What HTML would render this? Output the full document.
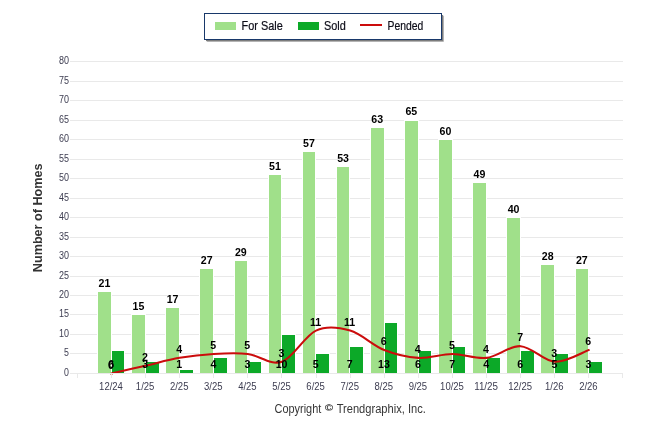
<!DOCTYPE html>
<html><head><meta charset="utf-8"><title>Chart</title>
<style>html,body{margin:0;padding:0;background:#fff}body{width:646px;height:434px;overflow:hidden}svg{display:block}text{font-family:"Liberation Sans",sans-serif}</style></head><body>
<svg width="646" height="434" viewBox="0 0 646 434">
<rect width="646" height="434" fill="#fff"/>
<g shape-rendering="crispEdges">
<rect x="70" y="373" width="553" height="1" fill="#e9e9e9"/>
<rect x="70" y="353" width="553" height="1" fill="#e9e9e9"/>
<rect x="70" y="334" width="553" height="1" fill="#e9e9e9"/>
<rect x="70" y="314" width="553" height="1" fill="#e9e9e9"/>
<rect x="70" y="295" width="553" height="1" fill="#e9e9e9"/>
<rect x="70" y="276" width="553" height="1" fill="#e9e9e9"/>
<rect x="70" y="256" width="553" height="1" fill="#e9e9e9"/>
<rect x="70" y="237" width="553" height="1" fill="#e9e9e9"/>
<rect x="70" y="217" width="553" height="1" fill="#e9e9e9"/>
<rect x="70" y="198" width="553" height="1" fill="#e9e9e9"/>
<rect x="70" y="178" width="553" height="1" fill="#e9e9e9"/>
<rect x="70" y="159" width="553" height="1" fill="#e9e9e9"/>
<rect x="70" y="139" width="553" height="1" fill="#e9e9e9"/>
<rect x="70" y="120" width="553" height="1" fill="#e9e9e9"/>
<rect x="70" y="100" width="553" height="1" fill="#e9e9e9"/>
<rect x="70" y="81" width="553" height="1" fill="#e9e9e9"/>
<rect x="70" y="61" width="553" height="1" fill="#e9e9e9"/>
<rect x="77" y="373" width="1" height="5" fill="#e9e9e9"/>
<rect x="111" y="373" width="1" height="5" fill="#e9e9e9"/>
<rect x="145" y="373" width="1" height="5" fill="#e9e9e9"/>
<rect x="179" y="373" width="1" height="5" fill="#e9e9e9"/>
<rect x="213" y="373" width="1" height="5" fill="#e9e9e9"/>
<rect x="247" y="373" width="1" height="5" fill="#e9e9e9"/>
<rect x="281" y="373" width="1" height="5" fill="#e9e9e9"/>
<rect x="316" y="373" width="1" height="5" fill="#e9e9e9"/>
<rect x="350" y="373" width="1" height="5" fill="#e9e9e9"/>
<rect x="384" y="373" width="1" height="5" fill="#e9e9e9"/>
<rect x="418" y="373" width="1" height="5" fill="#e9e9e9"/>
<rect x="452" y="373" width="1" height="5" fill="#e9e9e9"/>
<rect x="486" y="373" width="1" height="5" fill="#e9e9e9"/>
<rect x="520" y="373" width="1" height="5" fill="#e9e9e9"/>
<rect x="554" y="373" width="1" height="5" fill="#e9e9e9"/>
<rect x="588" y="373" width="1" height="5" fill="#e9e9e9"/>
<rect x="622" y="373" width="1" height="5" fill="#e9e9e9"/>
</g>
<text x="69" y="376.1" font-size="10.9" fill="#3c3c50" text-anchor="end" textLength="4.9" lengthAdjust="spacingAndGlyphs">0</text>
<text x="69" y="356.1" font-size="10.9" fill="#3c3c50" text-anchor="end" textLength="4.9" lengthAdjust="spacingAndGlyphs">5</text>
<text x="69" y="337.1" font-size="10.9" fill="#3c3c50" text-anchor="end" textLength="10.0" lengthAdjust="spacingAndGlyphs">10</text>
<text x="69" y="317.1" font-size="10.9" fill="#3c3c50" text-anchor="end" textLength="10.0" lengthAdjust="spacingAndGlyphs">15</text>
<text x="69" y="298.1" font-size="10.9" fill="#3c3c50" text-anchor="end" textLength="10.0" lengthAdjust="spacingAndGlyphs">20</text>
<text x="69" y="279.1" font-size="10.9" fill="#3c3c50" text-anchor="end" textLength="10.0" lengthAdjust="spacingAndGlyphs">25</text>
<text x="69" y="259.1" font-size="10.9" fill="#3c3c50" text-anchor="end" textLength="10.0" lengthAdjust="spacingAndGlyphs">30</text>
<text x="69" y="240.1" font-size="10.9" fill="#3c3c50" text-anchor="end" textLength="10.0" lengthAdjust="spacingAndGlyphs">35</text>
<text x="69" y="220.1" font-size="10.9" fill="#3c3c50" text-anchor="end" textLength="10.0" lengthAdjust="spacingAndGlyphs">40</text>
<text x="69" y="201.1" font-size="10.9" fill="#3c3c50" text-anchor="end" textLength="10.0" lengthAdjust="spacingAndGlyphs">45</text>
<text x="69" y="181.1" font-size="10.9" fill="#3c3c50" text-anchor="end" textLength="10.0" lengthAdjust="spacingAndGlyphs">50</text>
<text x="69" y="162.1" font-size="10.9" fill="#3c3c50" text-anchor="end" textLength="10.0" lengthAdjust="spacingAndGlyphs">55</text>
<text x="69" y="142.1" font-size="10.9" fill="#3c3c50" text-anchor="end" textLength="10.0" lengthAdjust="spacingAndGlyphs">60</text>
<text x="69" y="123.1" font-size="10.9" fill="#3c3c50" text-anchor="end" textLength="10.0" lengthAdjust="spacingAndGlyphs">65</text>
<text x="69" y="103.1" font-size="10.9" fill="#3c3c50" text-anchor="end" textLength="10.0" lengthAdjust="spacingAndGlyphs">70</text>
<text x="69" y="84.1" font-size="10.9" fill="#3c3c50" text-anchor="end" textLength="10.0" lengthAdjust="spacingAndGlyphs">75</text>
<text x="69" y="64.1" font-size="10.9" fill="#3c3c50" text-anchor="end" textLength="10.0" lengthAdjust="spacingAndGlyphs">80</text>
<g shape-rendering="crispEdges">
<rect x="97" y="291" width="15" height="82" fill="#fff"/>
<rect x="111" y="350" width="14" height="23" fill="#fff"/>
<rect x="131" y="314" width="15" height="59" fill="#fff"/>
<rect x="145" y="361" width="15" height="12" fill="#fff"/>
<rect x="165" y="307" width="15" height="66" fill="#fff"/>
<rect x="179" y="369" width="15" height="4" fill="#fff"/>
<rect x="199" y="268" width="15" height="105" fill="#fff"/>
<rect x="213" y="357" width="15" height="16" fill="#fff"/>
<rect x="234" y="260" width="14" height="113" fill="#fff"/>
<rect x="247" y="361" width="15" height="12" fill="#fff"/>
<rect x="268" y="174" width="14" height="199" fill="#fff"/>
<rect x="281" y="334" width="15" height="39" fill="#fff"/>
<rect x="302" y="151" width="14" height="222" fill="#fff"/>
<rect x="315" y="353" width="15" height="20" fill="#fff"/>
<rect x="336" y="166" width="14" height="207" fill="#fff"/>
<rect x="349" y="346" width="15" height="27" fill="#fff"/>
<rect x="370" y="127" width="15" height="246" fill="#fff"/>
<rect x="384" y="322" width="14" height="51" fill="#fff"/>
<rect x="404" y="120" width="15" height="253" fill="#fff"/>
<rect x="418" y="350" width="14" height="23" fill="#fff"/>
<rect x="438" y="139" width="15" height="234" fill="#fff"/>
<rect x="452" y="346" width="14" height="27" fill="#fff"/>
<rect x="472" y="182" width="15" height="191" fill="#fff"/>
<rect x="486" y="357" width="15" height="16" fill="#fff"/>
<rect x="506" y="217" width="15" height="156" fill="#fff"/>
<rect x="520" y="350" width="15" height="23" fill="#fff"/>
<rect x="540" y="264" width="15" height="109" fill="#fff"/>
<rect x="554" y="353" width="15" height="20" fill="#fff"/>
<rect x="575" y="268" width="14" height="105" fill="#fff"/>
<rect x="588" y="361" width="15" height="12" fill="#fff"/>
<rect x="98" y="292" width="13" height="81" fill="#a0e08a"/>
<rect x="112" y="351" width="12" height="22" fill="#0ca928"/>
<rect x="132" y="315" width="13" height="58" fill="#a0e08a"/>
<rect x="146" y="362" width="13" height="11" fill="#0ca928"/>
<rect x="166" y="308" width="13" height="65" fill="#a0e08a"/>
<rect x="180" y="370" width="13" height="3" fill="#0ca928"/>
<rect x="200" y="269" width="13" height="104" fill="#a0e08a"/>
<rect x="214" y="358" width="13" height="15" fill="#0ca928"/>
<rect x="235" y="261" width="12" height="112" fill="#a0e08a"/>
<rect x="248" y="362" width="13" height="11" fill="#0ca928"/>
<rect x="269" y="175" width="12" height="198" fill="#a0e08a"/>
<rect x="282" y="335" width="13" height="38" fill="#0ca928"/>
<rect x="303" y="152" width="12" height="221" fill="#a0e08a"/>
<rect x="316" y="354" width="13" height="19" fill="#0ca928"/>
<rect x="337" y="167" width="12" height="206" fill="#a0e08a"/>
<rect x="350" y="347" width="13" height="26" fill="#0ca928"/>
<rect x="371" y="128" width="13" height="245" fill="#a0e08a"/>
<rect x="385" y="323" width="12" height="50" fill="#0ca928"/>
<rect x="405" y="121" width="13" height="252" fill="#a0e08a"/>
<rect x="419" y="351" width="12" height="22" fill="#0ca928"/>
<rect x="439" y="140" width="13" height="233" fill="#a0e08a"/>
<rect x="453" y="347" width="12" height="26" fill="#0ca928"/>
<rect x="473" y="183" width="13" height="190" fill="#a0e08a"/>
<rect x="487" y="358" width="13" height="15" fill="#0ca928"/>
<rect x="507" y="218" width="13" height="155" fill="#a0e08a"/>
<rect x="521" y="351" width="13" height="22" fill="#0ca928"/>
<rect x="541" y="265" width="13" height="108" fill="#a0e08a"/>
<rect x="555" y="354" width="13" height="19" fill="#0ca928"/>
<rect x="576" y="269" width="12" height="104" fill="#a0e08a"/>
<rect x="589" y="362" width="13" height="11" fill="#0ca928"/>
</g>
<clipPath id="pc"><rect x="70" y="55" width="560" height="318.1"/></clipPath>
<path clip-path="url(#pc)" d="M111.40,373.45 C117.08,372.15 134.13,368.25 145.50,365.65 C156.87,363.06 168.23,359.81 179.60,357.86 C190.97,355.91 202.33,354.61 213.70,353.96 C225.07,353.31 236.43,352.66 247.80,353.96 C259.17,355.26 270.53,365.65 281.90,361.76 C293.27,357.86 304.63,335.77 316.00,330.57 C327.37,325.37 338.73,327.32 350.10,330.57 C361.47,333.82 372.83,345.51 384.20,350.06 C395.57,354.61 406.93,357.21 418.30,357.86 C429.67,358.51 441.03,353.96 452.40,353.96 C463.77,353.96 475.13,359.16 486.50,357.86 C497.87,356.56 509.23,345.51 520.60,346.16 C531.97,346.81 543.33,361.11 554.70,361.76 C566.07,362.41 583.12,352.01 588.80,350.06" fill="none" stroke="#cb0c0c" stroke-width="2.05" stroke-linecap="round" stroke-linejoin="round"/>
<rect x="110" y="374" width="1" height="1" fill="#ea9a9a"/><rect x="112" y="374" width="1" height="1" fill="#ea9a9a"/>
<text x="104.40" y="286.90" font-size="10.6" font-weight="bold" fill="#000" text-anchor="middle">21</text>
<text x="111.10" y="368" font-size="10.6" font-weight="bold" fill="#000" text-anchor="middle">6</text>
<text x="110.90" y="368.55" font-size="10.6" font-weight="bold" fill="#000" text-anchor="middle">0</text>
<text x="111.00" y="390" font-size="11.3" fill="#3c3c50" text-anchor="middle" textLength="23.8" lengthAdjust="spacingAndGlyphs">12/24</text>
<text x="138.50" y="309.90" font-size="10.6" font-weight="bold" fill="#000" text-anchor="middle">15</text>
<text x="145.20" y="368" font-size="10.6" font-weight="bold" fill="#000" text-anchor="middle">3</text>
<text x="145.00" y="360.75" font-size="10.6" font-weight="bold" fill="#000" text-anchor="middle">2</text>
<text x="145.10" y="390" font-size="11.3" fill="#3c3c50" text-anchor="middle" textLength="18.5" lengthAdjust="spacingAndGlyphs">1/25</text>
<text x="172.60" y="302.90" font-size="10.6" font-weight="bold" fill="#000" text-anchor="middle">17</text>
<text x="179.30" y="368" font-size="10.6" font-weight="bold" fill="#000" text-anchor="middle">1</text>
<text x="179.10" y="352.96" font-size="10.6" font-weight="bold" fill="#000" text-anchor="middle">4</text>
<text x="179.20" y="390" font-size="11.3" fill="#3c3c50" text-anchor="middle" textLength="18.5" lengthAdjust="spacingAndGlyphs">2/25</text>
<text x="206.70" y="263.90" font-size="10.6" font-weight="bold" fill="#000" text-anchor="middle">27</text>
<text x="213.40" y="368" font-size="10.6" font-weight="bold" fill="#000" text-anchor="middle">4</text>
<text x="213.20" y="349.06" font-size="10.6" font-weight="bold" fill="#000" text-anchor="middle">5</text>
<text x="213.30" y="390" font-size="11.3" fill="#3c3c50" text-anchor="middle" textLength="18.5" lengthAdjust="spacingAndGlyphs">3/25</text>
<text x="240.80" y="255.90" font-size="10.6" font-weight="bold" fill="#000" text-anchor="middle">29</text>
<text x="247.50" y="368" font-size="10.6" font-weight="bold" fill="#000" text-anchor="middle">3</text>
<text x="247.30" y="349.06" font-size="10.6" font-weight="bold" fill="#000" text-anchor="middle">5</text>
<text x="247.40" y="390" font-size="11.3" fill="#3c3c50" text-anchor="middle" textLength="18.5" lengthAdjust="spacingAndGlyphs">4/25</text>
<text x="274.90" y="169.90" font-size="10.6" font-weight="bold" fill="#000" text-anchor="middle">51</text>
<text x="281.60" y="368" font-size="10.6" font-weight="bold" fill="#000" text-anchor="middle">10</text>
<text x="281.40" y="356.86" font-size="10.6" font-weight="bold" fill="#000" text-anchor="middle">3</text>
<text x="281.50" y="390" font-size="11.3" fill="#3c3c50" text-anchor="middle" textLength="18.5" lengthAdjust="spacingAndGlyphs">5/25</text>
<text x="309.00" y="146.90" font-size="10.6" font-weight="bold" fill="#000" text-anchor="middle">57</text>
<text x="315.70" y="368" font-size="10.6" font-weight="bold" fill="#000" text-anchor="middle">5</text>
<text x="315.50" y="325.67" font-size="10.6" font-weight="bold" fill="#000" text-anchor="middle">11</text>
<text x="315.60" y="390" font-size="11.3" fill="#3c3c50" text-anchor="middle" textLength="18.5" lengthAdjust="spacingAndGlyphs">6/25</text>
<text x="343.10" y="161.90" font-size="10.6" font-weight="bold" fill="#000" text-anchor="middle">53</text>
<text x="349.80" y="368" font-size="10.6" font-weight="bold" fill="#000" text-anchor="middle">7</text>
<text x="349.60" y="325.67" font-size="10.6" font-weight="bold" fill="#000" text-anchor="middle">11</text>
<text x="349.70" y="390" font-size="11.3" fill="#3c3c50" text-anchor="middle" textLength="18.5" lengthAdjust="spacingAndGlyphs">7/25</text>
<text x="377.20" y="122.90" font-size="10.6" font-weight="bold" fill="#000" text-anchor="middle">63</text>
<text x="383.90" y="368" font-size="10.6" font-weight="bold" fill="#000" text-anchor="middle">13</text>
<text x="383.70" y="345.16" font-size="10.6" font-weight="bold" fill="#000" text-anchor="middle">6</text>
<text x="383.80" y="390" font-size="11.3" fill="#3c3c50" text-anchor="middle" textLength="18.5" lengthAdjust="spacingAndGlyphs">8/25</text>
<text x="411.30" y="114.90" font-size="10.6" font-weight="bold" fill="#000" text-anchor="middle">65</text>
<text x="418.00" y="368" font-size="10.6" font-weight="bold" fill="#000" text-anchor="middle">6</text>
<text x="417.80" y="352.96" font-size="10.6" font-weight="bold" fill="#000" text-anchor="middle">4</text>
<text x="417.90" y="390" font-size="11.3" fill="#3c3c50" text-anchor="middle" textLength="18.5" lengthAdjust="spacingAndGlyphs">9/25</text>
<text x="445.40" y="134.90" font-size="10.6" font-weight="bold" fill="#000" text-anchor="middle">60</text>
<text x="452.10" y="368" font-size="10.6" font-weight="bold" fill="#000" text-anchor="middle">7</text>
<text x="451.90" y="349.06" font-size="10.6" font-weight="bold" fill="#000" text-anchor="middle">5</text>
<text x="452.00" y="390" font-size="11.3" fill="#3c3c50" text-anchor="middle" textLength="23.8" lengthAdjust="spacingAndGlyphs">10/25</text>
<text x="479.50" y="177.90" font-size="10.6" font-weight="bold" fill="#000" text-anchor="middle">49</text>
<text x="486.20" y="368" font-size="10.6" font-weight="bold" fill="#000" text-anchor="middle">4</text>
<text x="486.00" y="352.96" font-size="10.6" font-weight="bold" fill="#000" text-anchor="middle">4</text>
<text x="486.10" y="390" font-size="11.3" fill="#3c3c50" text-anchor="middle" textLength="23.8" lengthAdjust="spacingAndGlyphs">11/25</text>
<text x="513.60" y="212.90" font-size="10.6" font-weight="bold" fill="#000" text-anchor="middle">40</text>
<text x="520.30" y="368" font-size="10.6" font-weight="bold" fill="#000" text-anchor="middle">6</text>
<text x="520.10" y="341.26" font-size="10.6" font-weight="bold" fill="#000" text-anchor="middle">7</text>
<text x="520.20" y="390" font-size="11.3" fill="#3c3c50" text-anchor="middle" textLength="23.8" lengthAdjust="spacingAndGlyphs">12/25</text>
<text x="547.70" y="259.90" font-size="10.6" font-weight="bold" fill="#000" text-anchor="middle">28</text>
<text x="554.40" y="368" font-size="10.6" font-weight="bold" fill="#000" text-anchor="middle">5</text>
<text x="554.20" y="356.86" font-size="10.6" font-weight="bold" fill="#000" text-anchor="middle">3</text>
<text x="554.30" y="390" font-size="11.3" fill="#3c3c50" text-anchor="middle" textLength="18.5" lengthAdjust="spacingAndGlyphs">1/26</text>
<text x="581.80" y="263.90" font-size="10.6" font-weight="bold" fill="#000" text-anchor="middle">27</text>
<text x="588.50" y="368" font-size="10.6" font-weight="bold" fill="#000" text-anchor="middle">3</text>
<text x="588.30" y="345.16" font-size="10.6" font-weight="bold" fill="#000" text-anchor="middle">6</text>
<text x="588.40" y="390" font-size="11.3" fill="#3c3c50" text-anchor="middle" textLength="18.5" lengthAdjust="spacingAndGlyphs">2/26</text>
<text transform="translate(41.8,217.8) rotate(-90)" font-size="13.5" font-weight="bold" fill="#333" text-anchor="middle" textLength="108.8" lengthAdjust="spacingAndGlyphs">Number of Homes</text>
<rect x="206.5" y="15.5" width="237.5" height="26.5" rx="1" fill="#b4b4b4"/><rect x="206" y="15" width="237" height="26" fill="#7c7c7c"/>
<rect x="204.5" y="13.5" width="237" height="26" fill="#fff" stroke="#18386a" stroke-width="1"/>
<rect x="215" y="22" width="21" height="8" fill="#a0e08a"/>
<text x="241.6" y="30" font-size="12" fill="#0c0c18" stroke="#0c0c18" stroke-width="0.2" lengthAdjust="spacingAndGlyphs" textLength="41.2">For Sale</text>
<rect x="298" y="22" width="21" height="8" fill="#0ca928"/>
<text x="324" y="30" font-size="12" fill="#0c0c18" stroke="#0c0c18" stroke-width="0.2" lengthAdjust="spacingAndGlyphs" textLength="21.8">Sold</text>
<line x1="360" y1="25" x2="382" y2="25" stroke="#cb0c0c" stroke-width="2"/>
<text x="387.6" y="30" font-size="12" fill="#0c0c18" stroke="#0c0c18" stroke-width="0.2" lengthAdjust="spacingAndGlyphs" textLength="35.7">Pended</text>
<text x="274.6" y="412.8" font-size="12" fill="#363636" lengthAdjust="spacingAndGlyphs" textLength="46.7">Copyright</text>
<text x="325" y="410.9" font-size="8.6" fill="#363636" stroke="#363636" stroke-width="0.18" textLength="8" lengthAdjust="spacingAndGlyphs">©</text>
<text x="336.7" y="412.8" font-size="12" fill="#363636" lengthAdjust="spacingAndGlyphs" textLength="89.1">Trendgraphix, Inc.</text>
</svg></body></html>
